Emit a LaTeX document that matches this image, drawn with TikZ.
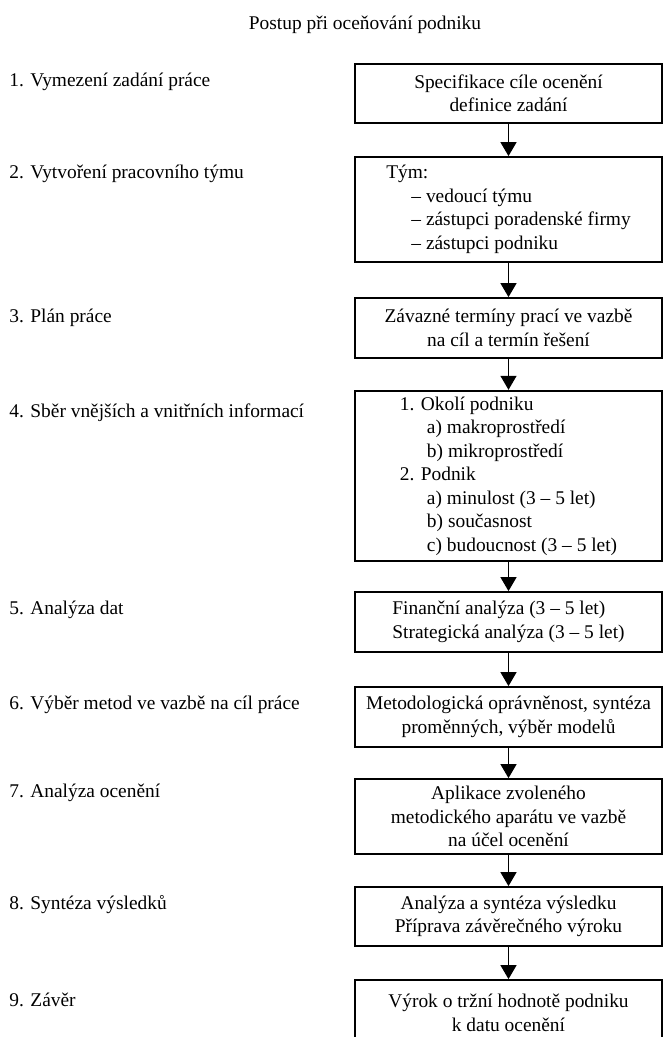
\documentclass[tikz,border=0pt]{standalone}
\usepackage{fontspec}
\setmainfont{Liberation Serif}
\usetikzlibrary{arrows.meta, positioning}
\newcommand{\stepfont}{\fontsize{9.7}{11.75}\selectfont}
\tikzset{
  stepbox/.style={draw, line width=0.9pt, minimum width=153.5pt, align=center, inner sep=3pt, font=\stepfont},
  steplabel/.style={anchor=west, inner sep=0pt, font=\stepfont},
  steparrow/.style={-{Triangle[width=8pt,length=7pt]}, line width=0.7pt},
}

\begin{document}
\begin{tikzpicture}[x=0.5pt, y=-0.5pt]
    \useasboundingbox (0,0) rectangle (663,1037);
    \clip (0,0) rectangle (663,1037);

    % Title
    \node[font=\stepfont] (title) at (365,25) {Postup při oceňování podniku};

    % Steps on the left
    \node[steplabel] (l1) at (9,82) {1. Vymezení zadání práce};
    \node[steplabel] (l2) at (9,174) {2. Vytvoření pracovního týmu};
    \node[steplabel] (l3) at (9,318) {3. Plán práce};
    \node[steplabel] (l4) at (9,413) {4. Sběr vnějších a vnitřních informací};
    \node[steplabel] (l5) at (9,610) {5. Analýza dat};
    \node[steplabel] (l6) at (9,705) {6. Výběr metod ve vazbě na cíl práce};
    \node[steplabel] (l7) at (9,793) {7. Analýza ocenění};
    \node[steplabel] (l8) at (9,905) {8. Syntéza výsledků};
    \node[steplabel] (l9) at (9,1000) {9. Závěr};

    % Boxes on the right
    \node[stepbox, minimum height=29.5pt] (b1) at (508.5,93.5) {Specifikace cíle ocenění\\definice zadání};
    \node[stepbox, minimum height=52.5pt, align=left] (b2) at (508.5,209.5) {Tým:\\\hspace*{1.3em}– vedoucí týmu\\\hspace*{1.3em}– zástupci poradenské firmy\\\hspace*{1.3em}– zástupci podniku};
    \node[stepbox, minimum height=30pt] (b3) at (508.5,328) {Závazné termíny prací ve vazbě\\na cíl a termín řešení};
    \node[stepbox, minimum height=83.5pt, align=left] (b4) at (508.5,476) {1. Okolí podniku\\\hspace*{1.4em}a) makroprostředí\\\hspace*{1.4em}b) mikroprostředí\\2. Podnik\\\hspace*{1.4em}a) minulost (3 – 5 let)\\\hspace*{1.4em}b) současnost\\\hspace*{1.4em}c) budoucnost (3 – 5 let)};
    \node[stepbox, minimum height=30pt, align=left] (b5) at (508.5,622) {Finanční analýza (3 – 5 let)\\Strategická analýza (3 – 5 let)};
    \node[stepbox, minimum height=30pt] (b6) at (508.5,717) {Metodologická oprávněnost, syntéza\\proměnných, výběr modelů};
    \node[stepbox, minimum height=37.5pt] (b7) at (508.5,816.5) {Aplikace zvoleného\\metodického aparátu ve vazbě\\na účel ocenění};
    \node[stepbox, minimum height=29.5pt] (b8) at (508.5,916.5) {Analýza a syntéza výsledku\\Příprava závěrečného výroku};
    \node[stepbox, minimum height=33pt] (b9) at (508.5,1013) {Výrok o tržní hodnotě podniku\\k datu ocenění};

    % Arrows
    \draw[steparrow] (b1.south) -- (b2.north);
    \draw[steparrow] (b2.south) -- (b3.north);
    \draw[steparrow] (b3.south) -- (b4.north);
    \draw[steparrow] (b4.south) -- (b5.north);
    \draw[steparrow] (b5.south) -- (b6.north);
    \draw[steparrow] (b6.south) -- (b7.north);
    \draw[steparrow] (b7.south) -- (b8.north);
    \draw[steparrow] (b8.south) -- (b9.north);
\end{tikzpicture}
\end{document}
